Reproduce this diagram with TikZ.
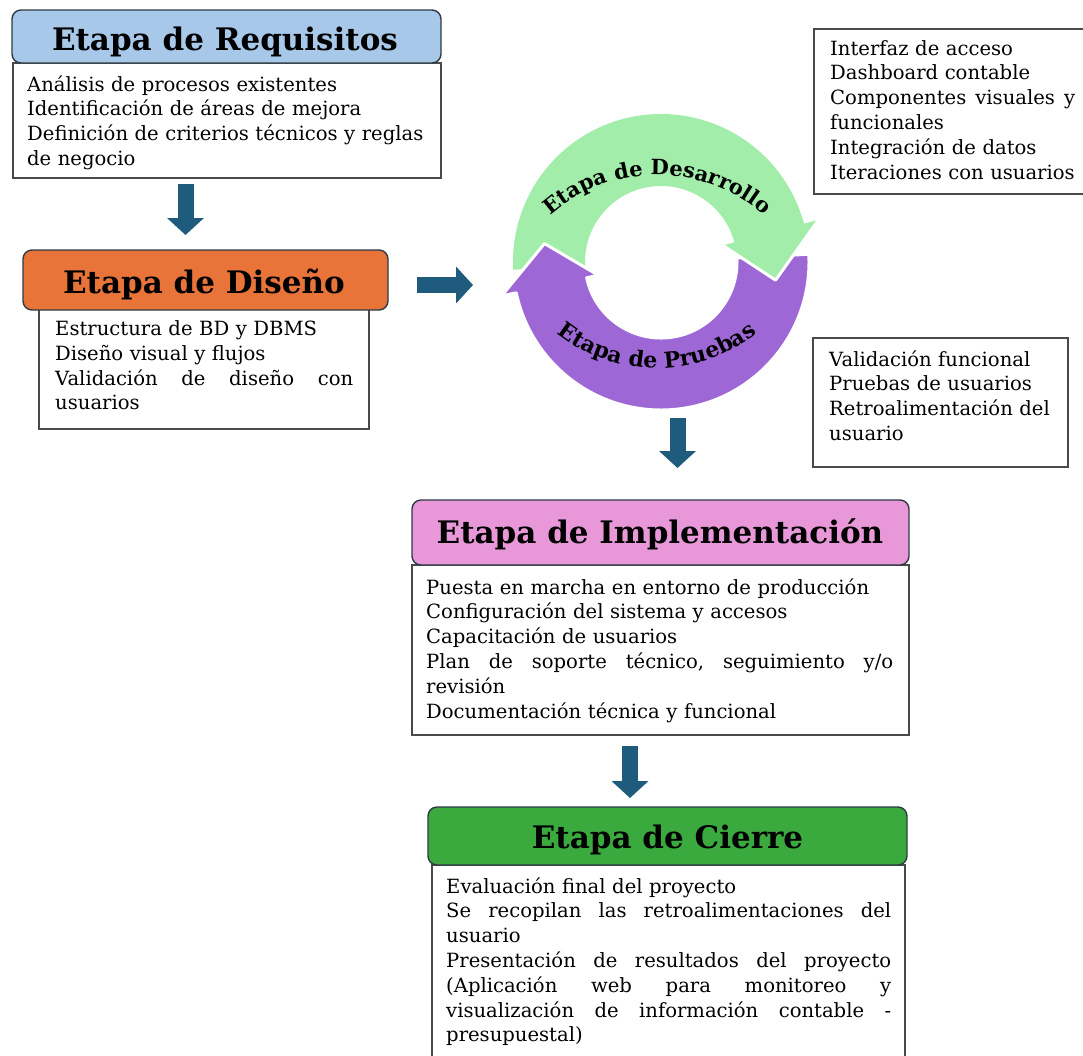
\documentclass[tikz,border=0pt]{standalone}
\usepackage{fontspec}
\setmainfont{DejaVu Serif}
\usetikzlibrary{decorations.text,arrows.meta,calc}
\definecolor{reqblue}{HTML}{A8C8E9}
\definecolor{disorange}{HTML}{E8743A}
\definecolor{implpink}{HTML}{E898D8}
\definecolor{cierregreen}{HTML}{3AA93E}
\definecolor{cycgreen}{HTML}{A3EDAA}
\definecolor{cycpurple}{HTML}{9D68D6}
\definecolor{arrowblue}{HTML}{1E5B7D}
\definecolor{hdrline}{HTML}{2E3B46}
\definecolor{boxline}{HTML}{4A4A4A}
\newcommand\JL[2]{\leavevmode\hbox to #1{#2}}
\tikzset{
  hdr/.style={draw=hdrline, line width=1.4pt, rounded corners=9pt, inner sep=0pt},
  ttl/.style={anchor=base, inner sep=0pt, font=\bfseries\fontsize{31}{34}\selectfont},
  bodybox/.style={draw=boxline, line width=1.2pt, fill=white},
  txt/.style={anchor=base west, inner sep=0pt, align=left, text width=#1,
    font=\fontsize{19.6}{24.8}\selectfont},
  bigarrow/.style={draw=arrowblue, line width=16pt,
    -{Triangle[width=36pt,length=17pt]}},
}
\begin{document}
\begin{tikzpicture}[x=1pt,y=-1pt]
\useasboundingbox[fill=white] (0,0) rectangle (1083,1055);

% ---- Requisitos
\draw[bodybox] (13,63) rectangle (441,178);
\node[hdr, fill=reqblue, minimum width=429pt, minimum height=53pt] (req) at (226.5,36.5) {};
\node[ttl] (reqT) at (225,50) {Etapa de Requisitos};
\node[txt=415pt] (reqtxt) at (27,91) {Análisis de procesos existentes\\
Identificación de áreas de mejora\\
Definición de criterios técnicos y reglas\\
de negocio};

% ---- Diseño
\draw[bodybox] (39,309) rectangle (369,429);
\node[hdr, fill=disorange, minimum width=365pt, minimum height=60pt] (dis) at (205.5,280) {};
\node[ttl] (disT) at (204,293) {Etapa de Diseño};
\node[txt=298pt] (distxt) at (55,335.5) {Estructura de BD y DBMS\\
Diseño visual y flujos\\
\JL{298pt}{Validación\hfill de\hfill diseño\hfill con}\\
usuarios};

% ---- Desarrollo box
\draw[bodybox] (814,29) rectangle (1100,194);
\node[txt=245pt] (destxt) at (830,55) {Interfaz de acceso\\
Dashboard contable\\
\JL{245pt}{Componentes\hfill visuales\hfill y}\\
funcionales\\
Integración de datos\\
Iteraciones con usuarios};

% ---- Pruebas box
\draw[bodybox] (813,338) rectangle (1068,467);
\node[txt=235pt] (prutxt) at (829,366) {Validación funcional\\
Pruebas de usuarios\\
Retroalimentación del\\
usuario};

% ---- Implementación
\draw[bodybox] (412,565) rectangle (909,735);
\node[hdr, fill=implpink, minimum width=497pt, minimum height=65pt] (impl) at (660.5,532.5) {};
\node[ttl] (implT) at (660,543) {Etapa de Implementación};
\node[txt=467pt] (impltxt) at (426,594) {Puesta en marcha en entorno de producción\\
Configuración del sistema y accesos\\
Capacitación de usuarios\\
\JL{467pt}{Plan\hfill de\hfill soporte\hfill técnico,\hfill seguimiento\hfill y/o}\\
revisión\\
Documentación técnica y funcional};

% ---- Cierre
\draw[bodybox] (432,865) rectangle (905,1070);
\node[hdr, fill=cierregreen, minimum width=479pt, minimum height=58pt] (cier) at (667.5,836) {};
\node[ttl] (cierT) at (667.5,848) {Etapa de Cierre};
\node[txt=445pt] (ciertxt) at (446,893) {Evaluación final del proyecto\\
\JL{445pt}{Se\hfill recopilan\hfill las\hfill retroalimentaciones\hfill del}\\
usuario\\
\JL{445pt}{Presentación\hfill de\hfill resultados\hfill del\hfill proyecto}\\
\JL{445pt}{(Aplicación\hfill web\hfill para\hfill monitoreo\hfill y}\\
\JL{445pt}{visualización\hfill de\hfill información\hfill contable\hfill -}\\
presupuestal)};

% ---- block arrows
\coordinate (a1s) at (185.5,184);
\coordinate (a1e) at (185.5,235);
\coordinate (a2s) at (417,285);
\coordinate (a2e) at (473,285);
\coordinate (a3s) at (677.5,418);
\coordinate (a3e) at (677.5,468);
\coordinate (a4s) at (630,746);
\coordinate (a4e) at (630,798);
\draw[bigarrow] (a1s) -- (a1e);
\draw[bigarrow] (a2s) -- (a2e);
\draw[bigarrow] (a3s) -- (a3e);
\draw[bigarrow] (a4s) -- (a4e);

% ---- cycle
\begin{scope}[shift={(661pt,-262pt)}, x=1pt, y=1pt]
  \fill[cycgreen] (183:148) arc[start angle=183, end angle=15, radius=148]
     -- (15:76) arc[start angle=15, end angle=183, radius=76] -- cycle;
  \filldraw[fill=cycpurple, draw=white, line width=3pt, line join=round]
     (3:148) arc[start angle=3, end angle=-168, radius=148]
     -- (-168:163) -- (171:118) -- (-168:64) -- (-168:76)
     arc[start angle=-168, end angle=3, radius=76] -- cycle;
  \fill[cycgreen] (17:76) -- (15:76) -- (15:64) -- (-9:116) -- (15:163) -- (15:148) -- (17:148) -- cycle;
  \draw[white, line width=3pt, line join=round, line cap=round] (15:64) -- (-9:116) -- (15:163);
  \path[decorate, decoration={text along path, text align=center,
      text={|\bfseries\fontsize{21}{21}\selectfont|Etapa de Desarrollo}}]
     ($(-4,-75)+(145:162)$) arc[start angle=145, end angle=35, radius=162];
  \path[decorate, decoration={text along path, text align=center,
      text={|\bfseries\fontsize{22}{22}\selectfont|Etapa de Pruebas}}]
     ($(-4,56)+(-145:162)$) arc[start angle=-145, end angle=-35, radius=162];
\end{scope}
\end{tikzpicture}
\end{document}
